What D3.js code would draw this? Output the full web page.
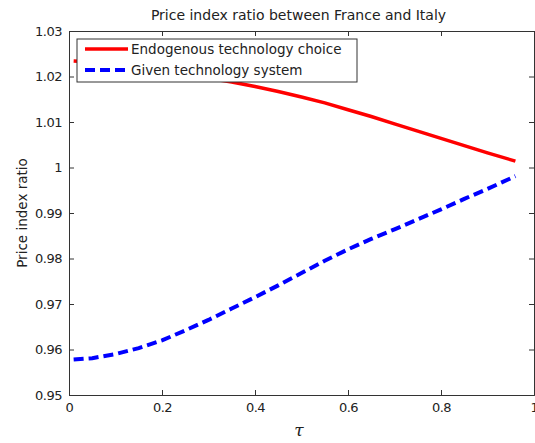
<!DOCTYPE html>
<html lang="en">
<head>
  <meta charset="UTF-8">
  <title>Price index ratio</title>
  <style>
    body { margin: 0; background: #fff; }
    svg { display: block; font-family: "DejaVu Sans", sans-serif; }
  </style>
</head>
<body>
  <svg id="svg" width="535" height="443"></svg>

  <script src="https://d3js.org/d3.v7.min.js"></script>
  <script>
    // values
    const tau = [0.01, 0.05, 0.1, 0.15, 0.2, 0.25, 0.3, 0.35, 0.4, 0.45, 0.5,
                 0.55, 0.6, 0.65, 0.7, 0.75, 0.8, 0.85, 0.9, 0.96]
    const endogenous = [1.0234, 1.0232, 1.0228, 1.0222, 1.0214, 1.0205, 1.0196, 1.0188, 1.0178, 1.0167, 1.0155,
                        1.0142, 1.0127, 1.0112, 1.0096, 1.0080, 1.0064, 1.0048, 1.0032, 1.0014]
    const given = [0.9578, 0.9581, 0.9590, 0.9603, 0.9620, 0.9642, 0.9665, 0.9690, 0.9715, 0.9741, 0.9768,
                   0.9795, 0.9820, 0.9843, 0.9864, 0.9886, 0.9908, 0.9931, 0.9953, 0.9981]
    const xTicks = [0, 0.2, 0.4, 0.6, 0.8, 1]
    const yTicks = [0.95, 0.96, 0.97, 0.98, 0.99, 1, 1.01, 1.02, 1.03]
    const seriesNames = ['Endogenous technology choice', 'Given technology system']

    const svg = d3.select('#svg')
    const m = { left: 69, right: 534, top: 31, bottom: 395 }
    const font = '"DejaVu Sans", sans-serif'

    const x = d3.scaleLinear().domain([0, 1]).range([m.left, m.right])
    const y = d3.scaleLinear().domain([0.95, 1.03]).range([m.bottom, m.top])

    // frame with inward ticks on all sides
    const fmtY = d => d === 1 ? '1' : d.toFixed(2)
    const fmtX = d => d === 0 || d === 1 ? String(d) : d.toFixed(1)

    svg.append('g')
      .attr('transform', `translate(0,${m.bottom})`)
      .call(d3.axisBottom(x).tickValues(xTicks).tickSize(-5).tickPadding(8).tickFormat(fmtX))
    svg.append('g')
      .attr('transform', `translate(0,${m.top})`)
      .call(d3.axisTop(x).tickValues(xTicks).tickSize(-5).tickFormat(''))
    svg.append('g')
      .attr('transform', `translate(${m.left},0)`)
      .call(d3.axisLeft(y).tickValues(yTicks).tickSize(-5).tickPadding(7).tickFormat(fmtY))
    svg.append('g')
      .attr('transform', `translate(${m.right},0)`)
      .call(d3.axisRight(y).tickValues(yTicks).tickSize(-5).tickFormat(''))

    svg.selectAll('.domain').attr('stroke', '#333')
    svg.selectAll('.tick line').attr('stroke', '#333')
    svg.selectAll('.tick text')
      .attr('font-family', font)
      .attr('font-size', 13)
      .attr('letter-spacing', -0.5)
      .attr('fill', '#222')

    const line = d3.line()
      .x((d, i) => x(tau[i]))
      .y(d => y(d))

    svg.append('path')
      .datum(endogenous)
      .attr('d', line)
      .attr('fill', 'none')
      .attr('stroke', '#f00')
      .attr('stroke-width', 3.5)

    svg.append('path')
      .datum(given)
      .attr('d', line)
      .attr('fill', 'none')
      .attr('stroke', '#00f')
      .attr('stroke-width', 4)
      .attr('stroke-dasharray', '10,5')

    // legend
    const legend = svg.append('g')
    legend.append('rect')
      .attr('x', 77).attr('y', 39)
      .attr('width', 280).attr('height', 43)
      .attr('fill', '#fff')
      .attr('stroke', '#333')
    legend.selectAll('line')
      .data(seriesNames)
      .join('line')
      .attr('x1', 85).attr('x2', 128)
      .attr('y1', (d, i) => 49 + i * 21)
      .attr('y2', (d, i) => 49 + i * 21)
      .attr('stroke', (d, i) => i === 0 ? '#f00' : '#00f')
      .attr('stroke-width', (d, i) => i === 0 ? 3.5 : 4)
      .attr('stroke-dasharray', (d, i) => i === 0 ? null : '10,5')
    legend.selectAll('text')
      .data(seriesNames)
      .join('text')
      .attr('x', 131)
      .attr('y', (d, i) => 54 + i * 21)
      .attr('font-size', 13.5)
      .attr('fill', '#222')
      .text(d => d)

    // titles
    svg.append('text')
      .attr('x', (m.left + m.right) / 2 - 3).attr('y', 20)
      .attr('text-anchor', 'middle')
      .attr('font-size', 14)
      .attr('fill', '#222')
      .text('Price index ratio between France and Italy')

    svg.append('text')
      .attr('transform', `translate(27,${(m.top + m.bottom) / 2}) rotate(-90)`)
      .attr('text-anchor', 'middle')
      .attr('font-size', 13.5)
      .attr('fill', '#222')
      .text('Price index ratio')

    svg.append('text')
      .attr('x', 299).attr('y', 436)
      .attr('text-anchor', 'middle')
      .attr('font-family', '"DejaVu Serif", "Liberation Serif", serif')
      .attr('font-style', 'italic')
      .attr('font-size', 17)
      .attr('fill', '#222')
      .text('τ')
  </script>
</body>
</html>
